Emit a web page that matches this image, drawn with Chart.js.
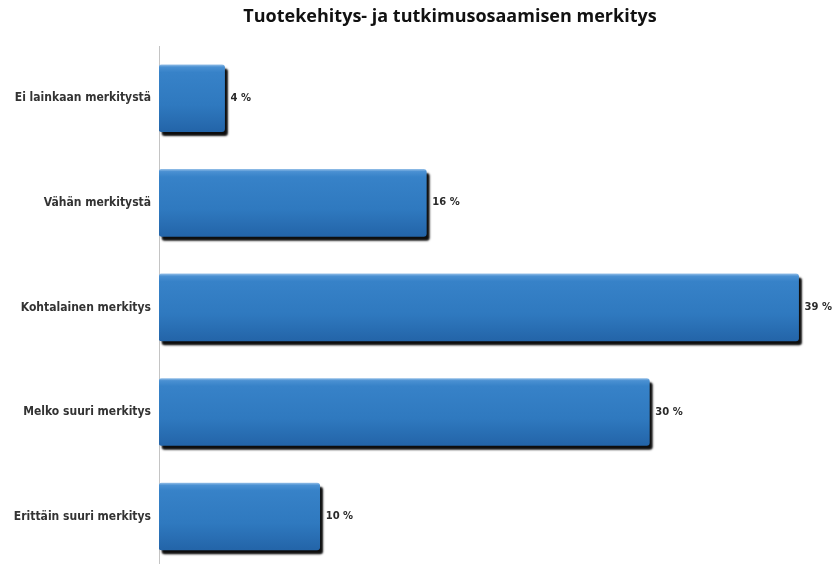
<!DOCTYPE html>
<html>
<head>
<meta charset="utf-8">
<script src="https://cdn.jsdelivr.net/npm/chart.js@4.4.1/dist/chart.umd.min.js"></script>
<style>
  html, body { margin: 0; padding: 0; background: #fff; overflow: hidden; }
  #wrap { width: 838px; height: 584px; }
</style>
</head>
<body>
<div id="wrap"><canvas id="chart" width="838" height="584"></canvas></div>
<script>
// data
const title = 'Tuotekehitys- ja tutkimusosaamisen merkitys';
const categories = ['Ei lainkaan merkitystä', 'Vähän merkitystä', 'Kohtalainen merkitys', 'Melko suuri merkitys', 'Erittäin suuri merkitys'];
const shares = [4, 16.3, 39, 29.9, 9.8];
const shareLabels = ['4 %', '16 %', '39 %', '30 %', '10 %'];

// bar fill: vertical gradient, lighter top edge
function barFill(context) {
  const chart = context.chart;
  const yScale = chart.scales.y;
  if (!yScale || !chart.chartArea) return '#2f7ac2';
  const c = yScale.getPixelForValue(context.dataIndex);
  if (!isFinite(c)) return '#2f7ac2';
  const g = chart.ctx.createLinearGradient(0, c - 34, 0, c + 34);
  g.addColorStop(0, '#9cc4ea');
  g.addColorStop(0.04, '#4a90d2');
  g.addColorStop(0.12, '#3782c8');
  g.addColorStop(0.6, '#2f79bf');
  g.addColorStop(1, '#2364a8');
  return g;
}

// shadow under the bars
const barShadow = {
  id: 'barShadow',
  beforeDatasetsDraw(chart) {
    const ctx = chart.ctx;
    ctx.save();
    ctx.shadowColor = 'rgba(0,0,0,0.95)';
    ctx.shadowOffsetX = 3;
    ctx.shadowOffsetY = 4;
    ctx.shadowBlur = 2;
  },
  afterDatasetsDraw(chart) {
    chart.ctx.restore();
  }
};

// values next to bar ends + title
const extras = {
  id: 'extras',
  afterDraw(chart) {
    const ctx = chart.ctx;
    const meta = chart.getDatasetMeta(0);
    ctx.save();
    ctx.fillStyle = '#2a2a2a';
    ctx.font = 'bold 10px "DejaVu Sans"';
    ctx.textBaseline = 'middle';
    ctx.textAlign = 'left';
    meta.data.forEach((bar, i) => {
      ctx.fillText(shareLabels[i], bar.x + 6, bar.y);
    });
    ctx.fillStyle = '#111';
    ctx.font = 'bold 18px "Open Sans"';
    ctx.textAlign = 'center';
    ctx.fillText(title, 450, 17);
    ctx.restore();
  }
};

new Chart(document.getElementById('chart'), {
  type: 'bar',
  data: {
    labels: categories,
    datasets: [{
      data: shares,
      backgroundColor: barFill,
      borderRadius: 3,
      borderSkipped: false,
      barThickness: 67
    }]
  },
  options: {
    indexAxis: 'y',
    responsive: false,
    animation: false,
    layout: { padding: { top: 46, right: 23, bottom: 0, left: 0 } },
    plugins: {
      legend: { display: false },
      tooltip: { enabled: false },
      title: { display: false }
    },
    scales: {
      x: { display: false, min: 0, max: 40 },
      y: {
        afterFit(scale) { scale.width = 159; },
        grid: { display: false, drawTicks: false },
        border: { display: true, color: '#c4c4c4', width: 1 },
        ticks: {
          padding: 8,
          color: '#333',
          font: { family: '"DejaVu Sans Condensed"', size: 12, weight: 'bold' }
        }
      }
    }
  },
  plugins: [barShadow, extras]
});
</script>
</body>
</html>
